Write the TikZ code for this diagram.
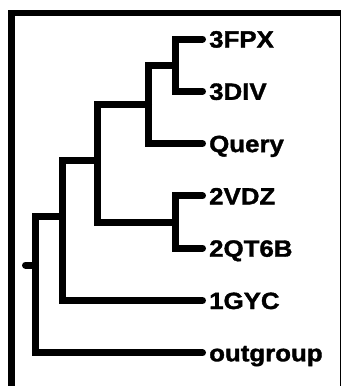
\documentclass[tikz,border=0pt]{standalone}
\usepackage{fontspec}
\newfontfamily\lblfont[FakeStretch=1.1, BoldFeatures={FakeBold=1.5}]{Liberation Sans}
\begin{document}
\begin{tikzpicture}[x=1pt,y=-1pt,
  branch/.style={line width=7pt, line cap=round, line join=miter},
  tip/.style={branch, shorten >=6.5pt},
  leaf/.style={anchor=west, inner sep=0pt, text height=17pt, text depth=0pt,
    font=\lblfont\bfseries\fontsize{23.5}{23.5}\selectfont}]
\useasboundingbox (0,0) rectangle (341,386);
% frame
\draw[line width=6.5pt] (11.5,386) -- (11.5,13) -- (341,13);
\draw[line width=1.5pt] (340.25,13) -- (340.25,386);
% leaves
\node[leaf] (l1) at (209,39) {3FPX};
\node[leaf] (l2) at (209,91.3) {3DIV};
\node[leaf] (l3) at (209,143.6) {Query};
\node[leaf] (l4) at (209,195.9) {2VDZ};
\node[leaf] (l5) at (209,248.2) {2QT6B};
\node[leaf] (l6) at (209,300.5) {1GYC};
\node[leaf] (l7) at (209,352.8) {outgroup};
% internal nodes
\coordinate (A) at (175,65);
\coordinate (B) at (148.5,104);
\coordinate (C) at (175,222);
\coordinate (D) at (97,160);
\coordinate (E) at (62,216);
\coordinate (R) at (35.5,265);
\coordinate (stub) at (25.5,265);
% branches
\draw[tip] (A) |- (l1.west);
\draw[tip] (A) |- (l2.west);
\draw[branch] (B) |- (A);
\draw[tip] (B) |- (l3.west);
\draw[tip] (C) |- (l4.west);
\draw[tip] (C) |- (l5.west);
\draw[branch] (D) |- (B);
\draw[branch] (D) |- (C);
\draw[branch] (E) |- (D);
\draw[tip] (E) |- (l6.west);
\draw[branch] (R) |- (E);
\draw[tip] (R) |- (l7.west);
\draw[branch] (stub) -- (R);
\end{tikzpicture}
\end{document}
